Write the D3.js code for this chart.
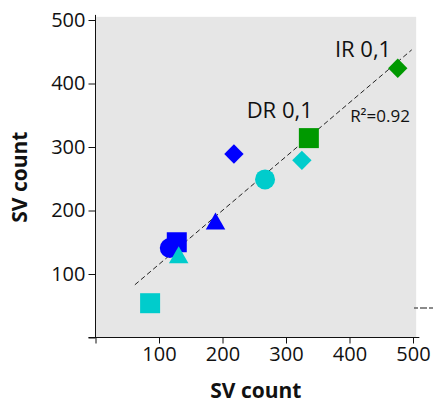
<!DOCTYPE html>
<html>
<head>
<meta charset="utf-8">
<script src="https://cdn.jsdelivr.net/npm/d3@7.9.0/dist/d3.min.js"></script>
<style>
  body { margin: 0; background: #fff; }
  text { font-family: "Open Sans", sans-serif; fill: #111; }
</style>
</head>
<body>
<div id="vis"></div>
<script>
// Data
const svX = [86, 117, 128, 131, 189, 218, 267, 325, 336, 476];
const svY = [54, 141, 150, 126, 179, 289, 249, 279, 314, 424];
const shapes = ["square", "circle", "square", "triangle", "triangle", "diamond", "circle", "diamond", "square", "diamond"];
const groups = ["cyan", "blue", "blue", "cyan", "blue", "blue", "cyan", "cyan", "green", "green"];
const fitX = [62, 498];
const fitY = [83, 453];
const ticks = [0, 100, 200, 300, 400, 500];
const labels = [
  { text: "IR 0,1", x: 377, y: 442, size: 22 },
  { text: "DR 0,1", x: 238, y: 346, size: 22 },
  { text: "R²=0.92", x: 401, y: 339, size: 17 }
];

const colors = { blue: "#0000ff", cyan: "#00cccc", green: "#009900" };

const width = 433;
const height = 404;

const xScale = d3.scaleLinear().domain([0, 500]).range([95.5, 413]);
const yScale = d3.scaleLinear().domain([0, 500]).range([337.5, 20]);

const svg = d3
  .select("#vis")
  .append("svg")
  .attr("width", width)
  .attr("height", height);

// plot background
svg
  .append("rect")
  .attr("x", xScale(0))
  .attr("y", yScale(505))
  .attr("width", xScale(505) - xScale(0))
  .attr("height", yScale(0) - yScale(505))
  .attr("fill", "#e6e6e6");

// stray dashed line at the right edge
svg
  .append("line")
  .attr("x1", 414)
  .attr("x2", 433)
  .attr("y1", 308)
  .attr("y2", 308)
  .attr("stroke", "#666")
  .attr("stroke-width", 1.5)
  .attr("stroke-dasharray", "4,2,7,2,7");

// axes
const fmt = (d) => (d === 0 ? "" : d);

const xAxis = svg
  .append("g")
  .attr("transform", `translate(0,${yScale(0)})`)
  .call(d3.axisBottom(xScale).tickValues(ticks).tickFormat(fmt).tickSize(6).tickPadding(3));

const yAxis = svg
  .append("g")
  .attr("transform", `translate(${xScale(0)},0)`)
  .call(d3.axisLeft(yScale).tickValues(ticks).tickFormat(fmt).tickSize(7).tickPadding(3));

[xAxis, yAxis].forEach((g) => {
  g.select(".domain").remove();
  g.selectAll("line").attr("stroke", "#111");
  g.selectAll("text")
    .attr("font-family", "Open Sans, sans-serif")
    .attr("font-size", 20)
    .attr("fill", "#111");
});

svg
  .append("line")
  .attr("x1", xScale(0))
  .attr("x2", xScale(0))
  .attr("y1", yScale(508))
  .attr("y2", yScale(0))
  .attr("stroke", "#111");

svg
  .append("line")
  .attr("x1", xScale(0) - 7)
  .attr("x2", xScale(510))
  .attr("y1", yScale(0))
  .attr("y2", yScale(0))
  .attr("stroke", "#111");

// regression line
svg
  .append("line")
  .attr("x1", xScale(fitX[0]))
  .attr("y1", yScale(fitY[0]))
  .attr("x2", xScale(fitX[1]))
  .attr("y2", yScale(fitY[1]))
  .attr("stroke", "#222")
  .attr("stroke-width", 1)
  .attr("stroke-dasharray", "5,3");

// markers
const symbolFor = {
  square: d3.symbol().type(d3.symbolSquare).size(400),
  circle: d3.symbol().type(d3.symbolCircle).size(Math.PI * 100),
  triangle: d3.symbol().type(d3.symbolTriangle).size(165),
  diamond: d3.symbol().type(d3.symbolSquare).size(188)
};

svg
  .append("g")
  .selectAll("path")
  .data(svX.map((x, i) => ({ x, y: svY[i], shape: shapes[i], group: groups[i] })))
  .enter()
  .append("path")
  .attr("d", (d) => symbolFor[d.shape]())
  .attr("transform", (d) =>
    `translate(${xScale(d.x)},${yScale(d.y)})` + (d.shape === "diamond" ? " rotate(45)" : "")
  )
  .attr("fill", (d) => colors[d.group]);

// annotations
svg
  .append("g")
  .selectAll("text")
  .data(labels)
  .enter()
  .append("text")
  .attr("x", (d) => xScale(d.x))
  .attr("y", (d) => yScale(d.y))
  .attr("font-size", (d) => d.size)
  .text((d) => d.text);

// axis titles
svg
  .append("text")
  .attr("x", (xScale(0) + xScale(505)) / 2)
  .attr("y", 398)
  .attr("text-anchor", "middle")
  .attr("font-size", 21)
  .attr("font-weight", "bold")
  .text("SV count");

svg
  .append("text")
  .attr("transform", `translate(27,${(yScale(0) + yScale(505)) / 2}) rotate(-90)`)
  .attr("text-anchor", "middle")
  .attr("font-size", 21)
  .attr("font-weight", "bold")
  .text("SV count");
</script>
</body>
</html>
